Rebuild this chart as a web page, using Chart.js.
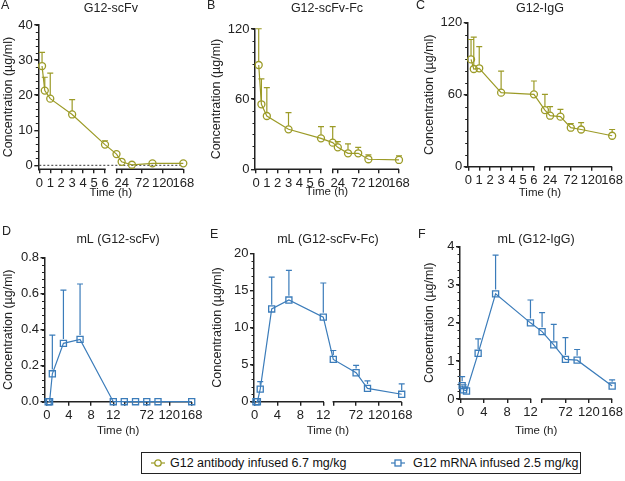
<!DOCTYPE html>
<html>
<head>
<meta charset="utf-8">
<script src="https://cdn.jsdelivr.net/npm/chart.js@4.4.1/dist/chart.umd.min.js"></script>
<style>
  body { margin: 0; background: #fff; font-family: "Liberation Sans", Arial, sans-serif; }
  #fig { position: relative; width: 625px; height: 481px; overflow: hidden; background: #fff; }
  #fig canvas { position: absolute; }
  #legend { position: absolute; left: 141px; top: 452px; width: 438px; height: 20px;
            border: 1px solid #222; font-size: 12.5px; color: #111; }
  #legend .item { position: absolute; top: 0; height: 20px; line-height: 20px; white-space: nowrap; }
  #legend svg { position: absolute; top: 5px; }
</style>
</head>
<body>
<div id="fig">
  <canvas id="cA"></canvas>
  <canvas id="cB"></canvas>
  <canvas id="cC"></canvas>
  <canvas id="cD"></canvas>
  <canvas id="cE"></canvas>
  <canvas id="cF"></canvas>
  <div id="legend">
    <span class="item" style="left:8px">
      <svg width="16" height="10"><line x1="1" y1="5" x2="15" y2="5" stroke="#9c9b27" stroke-width="1.2"/><circle cx="8" cy="5" r="3.2" fill="#fff" stroke="#9c9b27" stroke-width="1.3"/></svg>
      <span style="position:absolute;left:20px">G12 antibody infused 6.7 mg/kg</span>
    </span>
    <span class="item" style="left:248px">
      <svg width="16" height="10"><line x1="1" y1="5" x2="15" y2="5" stroke="#3b7cba" stroke-width="1.2"/><rect x="5" y="2" width="6" height="6" fill="#fff" stroke="#3b7cba" stroke-width="1.3"/></svg>
      <span style="position:absolute;left:23px">G12 mRNA infused 2.5 mg/kg</span>
    </span>
  </div>
</div>
<script>
// sampling times (h), mean concentration (µg/ml) and upper SD for each panel
const timesAbScFv = [0.25, 0.5, 1, 3, 6, 12, 24, 48, 96, 168];
const concAbScFv  = [28.3, 21.3, 19.0, 14.5, 5.9, 3.2, 1.0, 0.15, 0.55, 0.55];
const sdAbScFv    = [3.9, 3.8, 7.3, 4.2, 1.1, 0, 0, 0, 0, 0];

const timesAbScFvFc = [0.25, 0.5, 1, 3, 6, 12, 24, 48, 72, 96, 168];
const concAbScFvFc  = [89.2, 55.6, 45.6, 34.2, 26.5, 22.8, 18.8, 13.7, 13.7, 8.6, 8.0];
const sdAbScFvFc    = [31.0, 21.7, 24.2, 14.3, 10.0, 13.7, 4.9, 8.0, 5.1, 3.7, 3.4];

const timesAbIgG = [0.25, 0.5, 1, 3, 6, 12, 24, 48, 72, 96, 168];
const concAbIgG  = [89.4, 81.4, 82.0, 61.7, 60.3, 47.2, 42.5, 41.7, 32.5, 31.0, 25.8];
const sdAbIgG    = [16.6, 26.6, 18.0, 18.0, 11.1, 13.1, 7.5, 6.1, 3.5, 5.7, 5.2];

const timesMrScFv = [0.25, 0.5, 1, 3, 6, 12, 24, 48, 72, 96, 168];
const concMrScFv  = [0, 0, 0.155, 0.324, 0.346, 0, 0, 0, 0, 0, 0];
const sdMrScFv    = [0, 0, 0.215, 0.296, 0.308, 0, 0, 0, 0, 0, 0];

const timesMrScFvFc = [0.25, 0.5, 1, 3, 6, 12, 24, 72, 96, 168];
const concMrScFvFc  = [0, 0, 1.7, 12.5, 13.7, 11.4, 5.7, 3.9, 1.8, 1.0];
const sdMrScFvFc    = [0, 0, 1.0, 4.3, 4.0, 4.6, 1.2, 1.0, 1.0, 1.4];

const timesMrIgG = [0.25, 0.5, 1, 3, 6, 12, 24, 48, 72, 96, 168];
const concMrIgG  = [0.35, 0.24, 0.21, 1.2, 2.76, 2.0, 1.77, 1.42, 1.04, 1.02, 0.34];
const sdMrIgG    = [0.24, 0.13, 0, 0.38, 1.02, 0.6, 0.5, 0.54, 0.57, 0.28, 0.16];

// axis ticks
const ticksTopRow = [0, 1, 2, 3, 4, 5, 6, 12, 24, 72, 120, 168];
const labelsTopRow = ['0', '1', '2', '3', '4', '5', '6', '', '24', '72', '120', '168'];
const ticksBottomRow = [0, 4, 8, 12, 24, 72, 120, 168];
const labelsBottomRow = ['0', '4', '8', '12', '', '72', '120', '168'];
const yTicksA = [0, 10, 20, 30, 40];
const yTicksBC = [0, 60, 120];
const yTicksD = [0, 0.2, 0.4, 0.6, 0.8];
const yTicksE = [0, 5, 10, 15, 20];
const yTicksF = [0, 1, 2, 3, 4];

const colorAb = '#9c9b27';
const colorMr = '#3b7cba';
const ink = '#222';
const fam = '"Liberation Sans", Arial, sans-serif';

// layout of each panel (page pixels)
const panels = [
  { id: 'cA', letter: 'A', title: 'G12-scFv', times: timesAbScFv, conc: concAbScFv, sd: sdAbScFv, ab: true,
    box: [0, 0, 205, 205], L: 38.3, x0: 39.3, xs1: 105, xs2: 116.5, xR: 183.3, T: 25, yZero: 165.3, B: 169.3,
    seg1End: 6, seg2Start: 12, xTicks: ticksTopRow, xLabels: labelsTopRow, yTicks: yTicksA, yMinor: 2, yDigits: 0,
    dotted: true, yTitleX: 9, timeY: 192.5, lx: 1, ly: 6, ty: 8.5 },
  { id: 'cB', letter: 'B', title: 'G12-scFv-Fc', times: timesAbScFvFc, conc: concAbScFvFc, sd: sdAbScFvFc, ab: true,
    box: [205, 0, 210, 205], L: 255, x0: 256, xs1: 321, xs2: 332.7, xR: 399, T: 29, yZero: 169.3, B: 169.3,
    seg1End: 6, seg2Start: 12, xTicks: ticksTopRow, xLabels: labelsTopRow, yTicks: yTicksBC, yMinor: 10, yDigits: 0,
    yTitleX: 216.7, timeY: 192, lx: 207, ly: 6, ty: 8.5 },
  { id: 'cC', letter: 'C', title: 'G12-IgG', times: timesAbIgG, conc: concAbIgG, sd: sdAbIgG, ab: true,
    box: [415, 0, 210, 205], L: 467.7, x0: 468.3, xs1: 534, xs2: 545, xR: 612.3, T: 22.7, yZero: 166.7, B: 166.7,
    seg1End: 6, seg2Start: 12, xTicks: ticksTopRow, xLabels: labelsTopRow, yTicks: yTicksBC, yMinor: 10, yDigits: 0,
    yTitleX: 430, timeY: 193, lx: 416, ly: 6, ty: 8.5 },
  { id: 'cD', letter: 'D', title: 'mL (G12-scFv)', times: timesMrScFv, conc: concMrScFv, sd: sdMrScFv, ab: false,
    box: [0, 215, 205, 230], L: 44.5, x0: 46.8, xs1: 113.3, xs2: 124.3, xR: 191.7, T: 257.7, yZero: 401.7, B: 401.7,
    seg1End: 12, seg2Start: 24, xTicks: ticksBottomRow, xLabels: labelsBottomRow, yTicks: yTicksD, yMinor: 0.04, yDigits: 1,
    yTitleX: 9, timeY: 431, lx: 2, ly: 232, ty: 240 },
  { id: 'cE', letter: 'E', title: 'mL (G12-scFv-Fc)', times: timesMrScFvFc, conc: concMrScFvFc, sd: sdMrScFvFc, ab: false,
    box: [205, 215, 210, 230], L: 254, x0: 254.5, xs1: 323.3, xs2: 333.3, xR: 401.7, T: 253.3, yZero: 401.7, B: 401.7,
    seg1End: 12, seg2Start: 24, xTicks: ticksBottomRow, xLabels: labelsBottomRow, yTicks: yTicksE, yMinor: 1, yDigits: 0,
    yTitleX: 217.5, timeY: 431, lx: 210, ly: 235, ty: 240 },
  { id: 'cF', letter: 'F', title: 'mL (G12-IgG)', times: timesMrIgG, conc: concMrIgG, sd: sdMrIgG, ab: false,
    box: [415, 215, 210, 230], L: 460, x0: 460.7, xs1: 531, xs2: 542.7, xR: 613.3, T: 246.7, yZero: 399, B: 399,
    seg1End: 12, seg2Start: 24, xTicks: ticksBottomRow, xLabels: labelsBottomRow, yTicks: yTicksF, yMinor: 0.2, yDigits: 0,
    yTitleX: 430, timeY: 431, lx: 418, ly: 235, ty: 240 }
];

// broken time axis: early hours linear, late hours compressed
function axisPos(p, t) {
  if (t <= p.seg1End) return t * (p.xs1 - p.x0) / p.seg1End;
  return (p.xs2 - p.x0) + (t - p.seg2Start) * (p.xR - p.xs2) / (168 - p.seg2Start);
}

function decor(p, color, radius) {
  return {
    id: 'decor',
    beforeDatasetsDraw(chart) {
      const { ctx, chartArea: a, scales: { x, y } } = chart;
      ctx.save();
      ctx.strokeStyle = ink;
      ctx.lineWidth = 1.5;
      // x axis drawn in two pieces
      ctx.beginPath();
      ctx.moveTo(a.left, a.bottom);
      ctx.lineTo(x.getPixelForValue(axisPos(p, p.seg1End)) + 0.7, a.bottom);
      ctx.moveTo(x.getPixelForValue(axisPos(p, p.seg2Start)) - 0.7, a.bottom);
      ctx.lineTo(a.right, a.bottom);
      ctx.stroke();
      // minor y ticks
      ctx.lineWidth = 1;
      const top = p.yTicks[p.yTicks.length - 1];
      ctx.beginPath();
      for (let v = 0; v < top + 1e-9; v += p.yMinor) {
        const py = Math.round(y.getPixelForValue(v)) + 0.5;
        ctx.moveTo(a.left, py);
        ctx.lineTo(a.left - 2.5, py);
      }
      ctx.stroke();
      // upper error bars
      const meta = chart.getDatasetMeta(0);
      ctx.strokeStyle = color;
      ctx.lineWidth = 1.2;
      ctx.beginPath();
      p.conc.forEach((c, i) => {
        if (!p.sd[i]) return;
        const pt = meta.data[i];
        const yTop = y.getPixelForValue(c + p.sd[i]);
        if (yTop > pt.y - radius) return;
        ctx.moveTo(pt.x, pt.y - radius);
        ctx.lineTo(pt.x, yTop);
        ctx.moveTo(pt.x - 3, yTop);
        ctx.lineTo(pt.x + 3, yTop);
      });
      ctx.stroke();
      ctx.restore();
    },
    afterDraw(chart) {
      const { ctx, chartArea: a } = chart;
      const [cl, ct] = p.box;
      ctx.save();
      ctx.fillStyle = ink;
      ctx.textBaseline = 'middle';
      ctx.font = '12.5px ' + fam;
      ctx.textAlign = 'left';
      ctx.fillText(p.letter, p.lx - cl, p.ly - ct);
      ctx.textAlign = 'center';
      ctx.fillText(p.title, (a.left + a.right) / 2, p.ty - ct);
      ctx.restore();
    }
  };
}

function makePanel(p) {
  const [cl, ct, cw, ch] = p.box;
  const cv = document.getElementById(p.id);
  cv.width = cw;
  cv.height = ch;
  cv.style.left = cl + 'px';
  cv.style.top = ct + 'px';
  const color = p.ab ? colorAb : colorMr;
  const radius = p.ab ? 3.5 : 4.3;
  const yMax = p.yTicks[p.yTicks.length - 1];
  const pxPer = (p.yZero - p.T) / yMax;
  const yMin = -(p.B - p.yZero) / pxPer;

  const datasets = [{
    data: p.times.map((t, i) => ({ x: axisPos(p, t), y: p.conc[i] })),
    borderColor: color,
    borderWidth: 1.2,
    pointStyle: p.ab ? 'circle' : 'rect',
    pointRadius: radius,
    pointBorderWidth: 1.3,
    pointBorderColor: color,
    pointBackgroundColor: 'rgba(255,255,255,0)',
    tension: 0,
    clip: false
  }];
  if (p.dotted) {
    datasets.push({
      data: [{ x: axisPos(p, 0), y: 0 }, { x: axisPos(p, 168), y: 0 }],
      borderColor: '#333', borderWidth: 1, borderDash: [2, 2], pointRadius: 0
    });
  }

  new Chart(cv, {
    type: 'line',
    data: { datasets },
    options: {
      responsive: false,
      animation: false,
      events: [],
      layout: { padding: { left: 0, top: p.T - ct, right: cl + cw - p.xR, bottom: 0 } },
      plugins: { legend: { display: false }, tooltip: { enabled: false } },
      scales: {
        x: {
          type: 'linear',
          min: p.L - p.x0,
          max: p.xR - p.x0,
          afterFit: s => { s.height = ct + ch - p.B; },
          afterBuildTicks: s => { s.ticks = p.xTicks.map(t => ({ value: axisPos(p, t) })); },
          ticks: {
            autoSkip: false, maxRotation: 0, minRotation: 0, padding: 2, color: ink,
            font: { size: 13, family: fam },
            callback: (v, i) => p.xLabels[i]
          },
          grid: { drawOnChartArea: false, tickLength: 4, color: ink, lineWidth: 1.4 },
          border: { display: false },
          title: {
            display: true, text: 'Time (h)', color: ink,
            font: { size: 11.5, family: fam },
            padding: { top: 0, bottom: ct + ch - p.timeY - 6.9 }
          }
        },
        y: {
          min: yMin,
          max: yMax,
          afterFit: s => { s.width = p.L - cl; },
          afterBuildTicks: s => { s.ticks = p.yTicks.map(v => ({ value: v })); },
          ticks: {
            padding: 1.5, color: ink,
            font: { size: 13, family: fam },
            callback: v => v.toFixed(p.yDigits)
          },
          grid: { drawOnChartArea: false, tickLength: 4, color: ink, lineWidth: 1.4 },
          border: { display: true, color: ink, width: 1.5 },
          title: {
            display: true, text: 'Concentration (µg/ml)', color: ink,
            font: { size: 12.5, family: fam },
            padding: { top: p.yTitleX - cl - 7.5, bottom: 0 }
          }
        }
      }
    },
    plugins: [decor(p, color, radius)]
  });
}

panels.forEach(makePanel);
</script>
</body>
</html>
